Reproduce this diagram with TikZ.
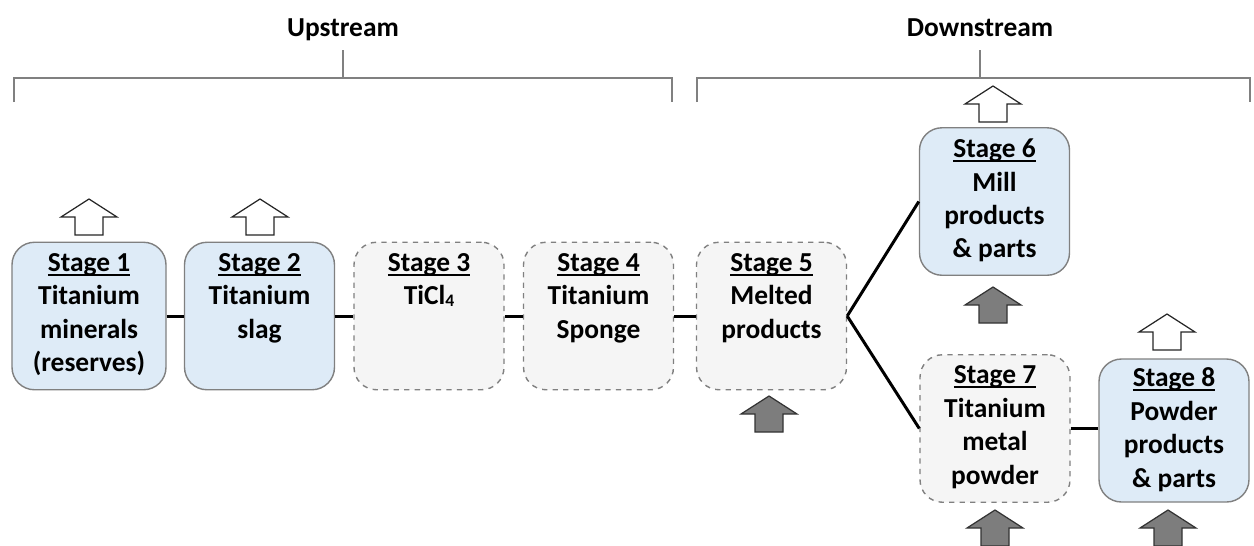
\documentclass[tikz,border=0pt]{standalone}
\usepackage{fontspec}
\setmainfont{Carlito}
\usepackage{tikz}
\usetikzlibrary{calc}
\definecolor{sky}{RGB}{222,235,247}
\definecolor{paper}{RGB}{245,245,245}
\definecolor{rim}{RGB}{128,128,128}
\definecolor{shade}{RGB}{125,125,125}
\tikzset{
every picture/.style={line width=0.8pt},
%%%%%%%%%%  Node styles
stage/.style={rectangle, rounded corners=0.45cm, inner sep=0pt,
              minimum width=3cm, minimum height=2.95cm,
              font=\fontsize{15.6}{19}\selectfont\bfseries},
kept/.style={stage, draw=rim, fill=sky},
open/.style={stage, draw=rim, fill=paper, dashed},
heading/.style={anchor=base, font=\fontsize{15.6}{19}\selectfont\bfseries},
%%%% different line styles:
link/.style={line width=1.7pt, black},
bracket/.style={line width=0.85pt, draw=rim},
%%%%%%% Block arrows
blockarrow/.pic={\path[pic actions] (-0.28,0) -- (-0.28,0.36) -- (-0.56,0.36)
                 -- (0,0.72) -- (0.56,0.36) -- (0.28,0.36) -- (0.28,0) -- cycle;},
outarrow/.style={draw=black!85, fill=white, line width=0.7pt},
inarrow/.style={draw=black!80, fill=shade, line width=0.7pt}
}
\newcommand{\stul}[1]{\leavevmode\setbox0\hbox{#1}\rlap{\rule[-2.4pt]{\wd0}{1pt}}\box0}
\newcommand{\sttext}[2]{\parbox[c][2.5cm][t]{2.9cm}{\centering
  \stul{Stage #1}\\#2}}

\begin{document}
\begin{tikzpicture}
\useasboundingbox (0,0) rectangle (25.08,-10.9);
% headings and brackets
\node[heading] (up) at (6.86,-0.72) {Upstream};
\node[heading] (down) at (19.6,-0.72) {Downstream};
\draw[bracket] (6.86,-1.0) -- (6.86,-1.56);
\draw[bracket] (0.28,-2.04) |- (13.44,-1.56) -- (13.44,-2.04);
\draw[bracket] (19.6,-1.0) -- (19.6,-1.56);
\draw[bracket] (13.94,-2.04) |- (25.0,-1.56) -- (25.0,-2.04);
% stages
\node[kept, minimum width=3.08cm] (s1) at (1.78,-6.32)
     {\sttext{1}{Titanium\\minerals\\(reserves)}};
\node[kept] (s2) at (5.19,-6.32) {\sttext{2}{Titanium\\slag}};
\node[open] (s3) at (8.58,-6.32)
     {\sttext{3}{TiCl{\fontsize{10}{10}\selectfont\raisebox{-0.15ex}{4}}}};
\node[open] (s4) at (11.97,-6.32) {\sttext{4}{Titanium\\Sponge}};
\node[open] (s5) at (15.43,-6.32) {\sttext{5}{Melted\\products}};
\node[kept] (s6) at (19.89,-4.03) {\sttext{6}{Mill\\products\\\& parts}};
\node[open] (s7) at (19.9,-8.57) {\sttext{7}{Titanium\\metal\\powder}};
\node[kept, minimum height=2.86cm] (s8) at (23.48,-8.61)
     {\sttext{8}{Powder\\products\\\& parts}};
% links
\draw[link] (s1) -- (s2);
\draw[link] (s2) -- (s3);
\draw[link] (s3) -- (s4);
\draw[link] (s4) -- (s5);
\draw[link] (s5.east) -- (s6.west);
\draw[link] (s5.east) -- (s7.west);
\draw[link] (s7.east) -- (s7.east -| s8.west);
% outputs and inputs
\pic[outarrow] at (1.78,-4.70) {blockarrow};
\pic[outarrow] at (5.2,-4.70) {blockarrow};
\pic[outarrow] at (19.86,-2.44) {blockarrow};
\pic[outarrow] at (23.34,-7.0) {blockarrow};
\pic[inarrow] at (15.38,-8.64) {blockarrow};
\pic[inarrow] at (19.86,-6.46) {blockarrow};
\pic[inarrow] at (19.9,-10.92) {blockarrow};
\pic[inarrow] at (23.36,-10.92) {blockarrow};
\end{tikzpicture}
\end{document}
